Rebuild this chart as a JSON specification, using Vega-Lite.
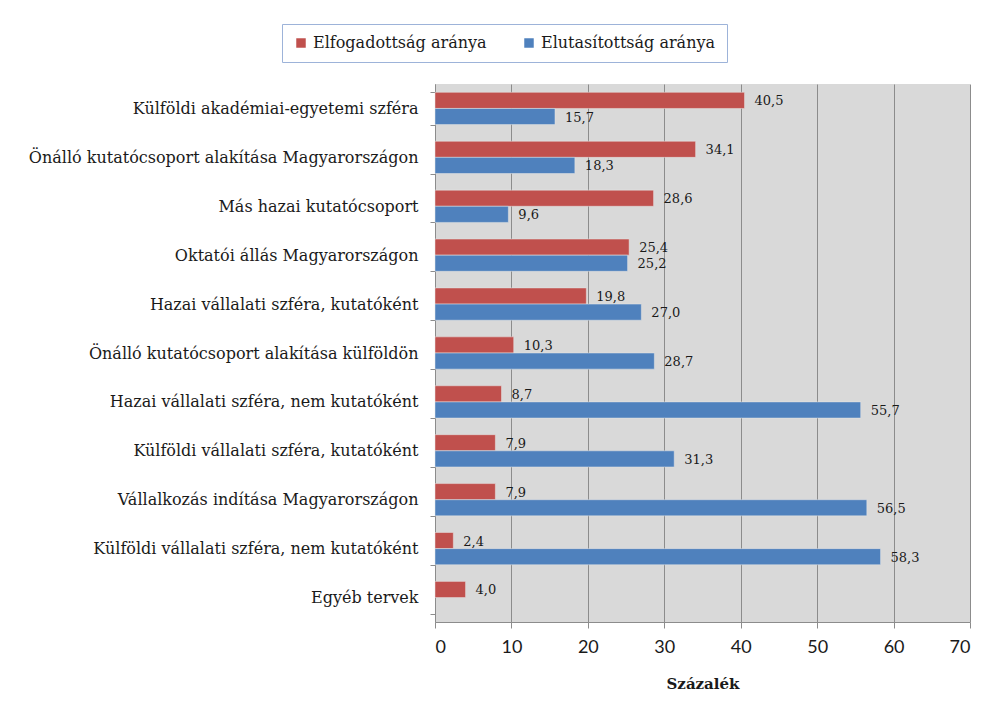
{
  "$schema": "https://vega.github.io/schema/vega-lite/v6.json",
  "autosize": "none",
  "width": 535,
  "height": 538,
  "padding": {"left": 435, "top": 84, "right": 21, "bottom": 91},
  "background": "white",
  "config": {
    "locale": {"number": {"decimal": ",", "thousands": " ", "grouping": [3], "currency": ["", ""]}},
    "view": {"fill": "#D9D9D9", "stroke": null},
    "font": "DejaVu Serif"
  },
  "data": {
    "values": [
      {"cat": "Külföldi akadémiai-egyetemi szféra", "series": "Elfogadottság aránya", "value": 40.5},
      {"cat": "Külföldi akadémiai-egyetemi szféra", "series": "Elutasítottság aránya", "value": 15.7},
      {"cat": "Önálló kutatócsoport alakítása Magyarországon", "series": "Elfogadottság aránya", "value": 34.1},
      {"cat": "Önálló kutatócsoport alakítása Magyarországon", "series": "Elutasítottság aránya", "value": 18.3},
      {"cat": "Más hazai kutatócsoport", "series": "Elfogadottság aránya", "value": 28.6},
      {"cat": "Más hazai kutatócsoport", "series": "Elutasítottság aránya", "value": 9.6},
      {"cat": "Oktatói állás Magyarországon", "series": "Elfogadottság aránya", "value": 25.4},
      {"cat": "Oktatói állás Magyarországon", "series": "Elutasítottság aránya", "value": 25.2},
      {"cat": "Hazai vállalati szféra, kutatóként", "series": "Elfogadottság aránya", "value": 19.8},
      {"cat": "Hazai vállalati szféra, kutatóként", "series": "Elutasítottság aránya", "value": 27.0},
      {"cat": "Önálló kutatócsoport alakítása külföldön", "series": "Elfogadottság aránya", "value": 10.3},
      {"cat": "Önálló kutatócsoport alakítása külföldön", "series": "Elutasítottság aránya", "value": 28.7},
      {"cat": "Hazai vállalati szféra, nem kutatóként", "series": "Elfogadottság aránya", "value": 8.7},
      {"cat": "Hazai vállalati szféra, nem kutatóként", "series": "Elutasítottság aránya", "value": 55.7},
      {"cat": "Külföldi vállalati szféra, kutatóként", "series": "Elfogadottság aránya", "value": 7.9},
      {"cat": "Külföldi vállalati szféra, kutatóként", "series": "Elutasítottság aránya", "value": 31.3},
      {"cat": "Vállalkozás indítása Magyarországon", "series": "Elfogadottság aránya", "value": 7.9},
      {"cat": "Vállalkozás indítása Magyarországon", "series": "Elutasítottság aránya", "value": 56.5},
      {"cat": "Külföldi vállalati szféra, nem kutatóként", "series": "Elfogadottság aránya", "value": 2.4},
      {"cat": "Külföldi vállalati szféra, nem kutatóként", "series": "Elutasítottság aránya", "value": 58.3},
      {"cat": "Egyéb tervek", "series": "Elfogadottság aránya", "value": 4.0}
    ]
  },
  "encoding": {
    "y": {
      "field": "cat",
      "type": "nominal",
      "sort": null,
      "scale": {"paddingInner": 0.34, "paddingOuter": 0.17},
      "axis": {
        "title": null,
        "tickBand": "extent",
        "labelFont": "DejaVu Serif",
        "labelFontSize": 16,
        "labelColor": "#1a1a1a",
        "labelLimit": 500,
        "labelPadding": 12,
        "tickSize": 5,
        "tickColor": "#8c8c8c",
        "domainColor": "#8c8c8c",
        "grid": false
      }
    },
    "yOffset": {
      "field": "series",
      "type": "nominal",
      "scale": {"domain": ["Elfogadottság aránya", "Elutasítottság aránya"]}
    },
    "x": {
      "field": "value",
      "type": "quantitative",
      "scale": {"domain": [0, 70], "nice": false},
      "axis": {
        "values": [0, 10, 20, 30, 40, 50, 60, 70],
        "title": "Százalék",
        "titleFont": "DejaVu Serif",
        "titleFontSize": 15,
        "titleFontWeight": "bold",
        "titleColor": "#1a1a1a",
        "titlePadding": 20,
        "labelFont": "Lato",
        "labelFontSize": 18,
        "labelColor": "#1a1a1a",
        "labelPadding": 10,
        "tickSize": 6,
        "tickColor": "#8c8c8c",
        "domainColor": "#8c8c8c",
        "grid": true,
        "gridColor": "#8c8c8c",
        "gridWidth": 1
      }
    }
  },
  "layer": [
    {
      "mark": {"type": "bar", "stroke": "#e6e6e6", "strokeWidth": 0.5},
      "encoding": {
        "color": {
          "field": "series",
          "type": "nominal",
          "scale": {"domain": ["Elfogadottság aránya", "Elutasítottság aránya"], "range": ["#C0504D", "#4F81BD"]},
          "legend": {
            "title": null,
            "orient": "none",
            "legendX": -153,
            "legendY": -60,
            "direction": "horizontal",
            "symbolType": "square",
            "symbolSize": 90,
            "symbolStrokeWidth": 0,
            "labelFont": "DejaVu Serif",
            "labelFontSize": 16,
            "labelColor": "#1a1a1a",
            "columnPadding": 34,
            "padding": 11,
            "strokeColor": "#9DB3D9",
            "fillColor": "white",
            "labelLimit": 300
          }
        }
      }
    },
    {
      "mark": {"type": "text", "align": "left", "baseline": "middle", "dx": 10, "dy": 1, "font": "DejaVu Serif", "fontSize": 13, "color": "#1a1a1a"},
      "encoding": {
        "text": {"field": "value", "type": "quantitative", "format": ".1f"}
      }
    }
  ]
}
